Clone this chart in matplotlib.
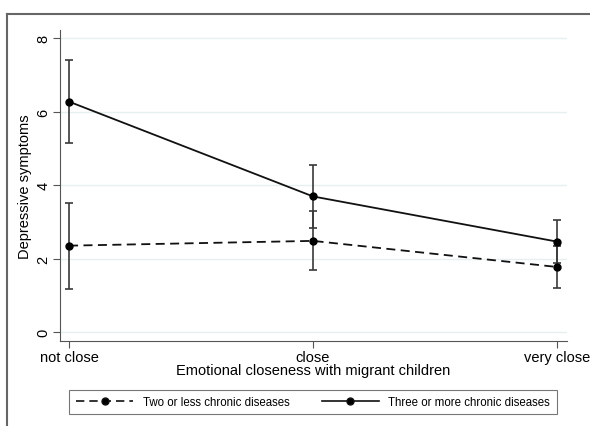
import matplotlib.pyplot as plt
from matplotlib.lines import Line2D

plt.rcParams["font.family"] = ["Liberation Sans", "DejaVu Sans"]

# predicted depressive symptoms by emotional closeness and chronic disease group
closeness = ["not close", "close", "very close"]

low_mean = [2.35, 2.48, 1.77]
low_lo = [1.17, 1.68, 1.20]
low_hi = [3.50, 3.28, 2.34]

high_mean = [6.27, 3.69, 2.46]
high_lo = [5.15, 2.83, 1.87]
high_hi = [7.41, 4.55, 3.05]

W, H = 590, 427
fig = plt.figure(figsize=(W / 100, H / 100), dpi=100)
ax = fig.add_axes([60 / W, 1 - 342 / H, (567 - 60) / W, (342 - 31) / H])

x = range(len(closeness))

for mean, lo, hi, ls in [(low_mean, low_lo, low_hi, (0, (5, 3))),
                         (high_mean, high_lo, high_hi, "-")]:
    yerr = [[m - l for m, l in zip(mean, lo)], [h - m for m, h in zip(mean, hi)]]
    ax.errorbar(x, mean, yerr=yerr, fmt="none", ecolor="#3a3a3a",
                elinewidth=1.2, capsize=2.6, capthick=1.2, zorder=2)
    ax.plot(x, mean, color="#111111", linestyle=ls, linewidth=1.3,
            marker="o", markersize=5, markerfacecolor="black",
            markeredgecolor="black", zorder=3)

ax.set_xlim(-0.037, 2.041)
ax.set_ylim(-0.245, 8.22)
ax.set_yticks([0, 2, 4, 6, 8])
ax.set_xticks(list(x))
ax.set_xticklabels(closeness, fontsize=10.5)
ax.tick_params(axis="y", labelsize=10.5, labelrotation=90, length=5,
               color="#555555", width=0.8, pad=2)
ax.tick_params(axis="x", length=5, color="#555555", width=0.8, pad=1.5)
for lab in ax.get_yticklabels():
    lab.set_va("center")

ax.grid(axis="y", color="#e6f0f0", linewidth=1.0)
ax.set_axisbelow(True)
for side in ["top", "right"]:
    ax.spines[side].set_visible(False)
for side in ["left", "bottom"]:
    ax.spines[side].set_color("#555555")
    ax.spines[side].set_linewidth(0.8)

ax.set_ylabel("Depressive symptoms", fontsize=10.5, labelpad=3)
ax.set_xlabel("Emotional closeness with migrant children", fontsize=10.5,
              labelpad=-1)

handles = [
    Line2D([], [], color="#111111", linestyle=(0, (5, 3)), linewidth=1.2,
           marker="o", markersize=5, markerfacecolor="black"),
    Line2D([], [], color="#111111", linestyle="-", linewidth=1.2,
           marker="o", markersize=5, markerfacecolor="black"),
]
leg = fig.legend(handles, ["Two or less chronic diseases",
                           "Three or more chronic diseases"],
                 loc="center", bbox_to_anchor=(313 / W, 1 - 403 / H),
                 ncol=2, fontsize=8.3, frameon=True, fancybox=False,
                 edgecolor="#555555", handlelength=5, columnspacing=2.8,
                 borderpad=0.55)
leg.get_frame().set_linewidth(0.8)

# outer frame lines along the top and left edges
fig.add_artist(Line2D([7 / W, 1], [1 - 15 / H, 1 - 15 / H], color="#666666",
                      linewidth=1.5))
fig.add_artist(Line2D([7 / W, 7 / W], [0, 1 - 15 / H], color="#666666",
                      linewidth=1.5))

fig.savefig("out.png", dpi=100)
